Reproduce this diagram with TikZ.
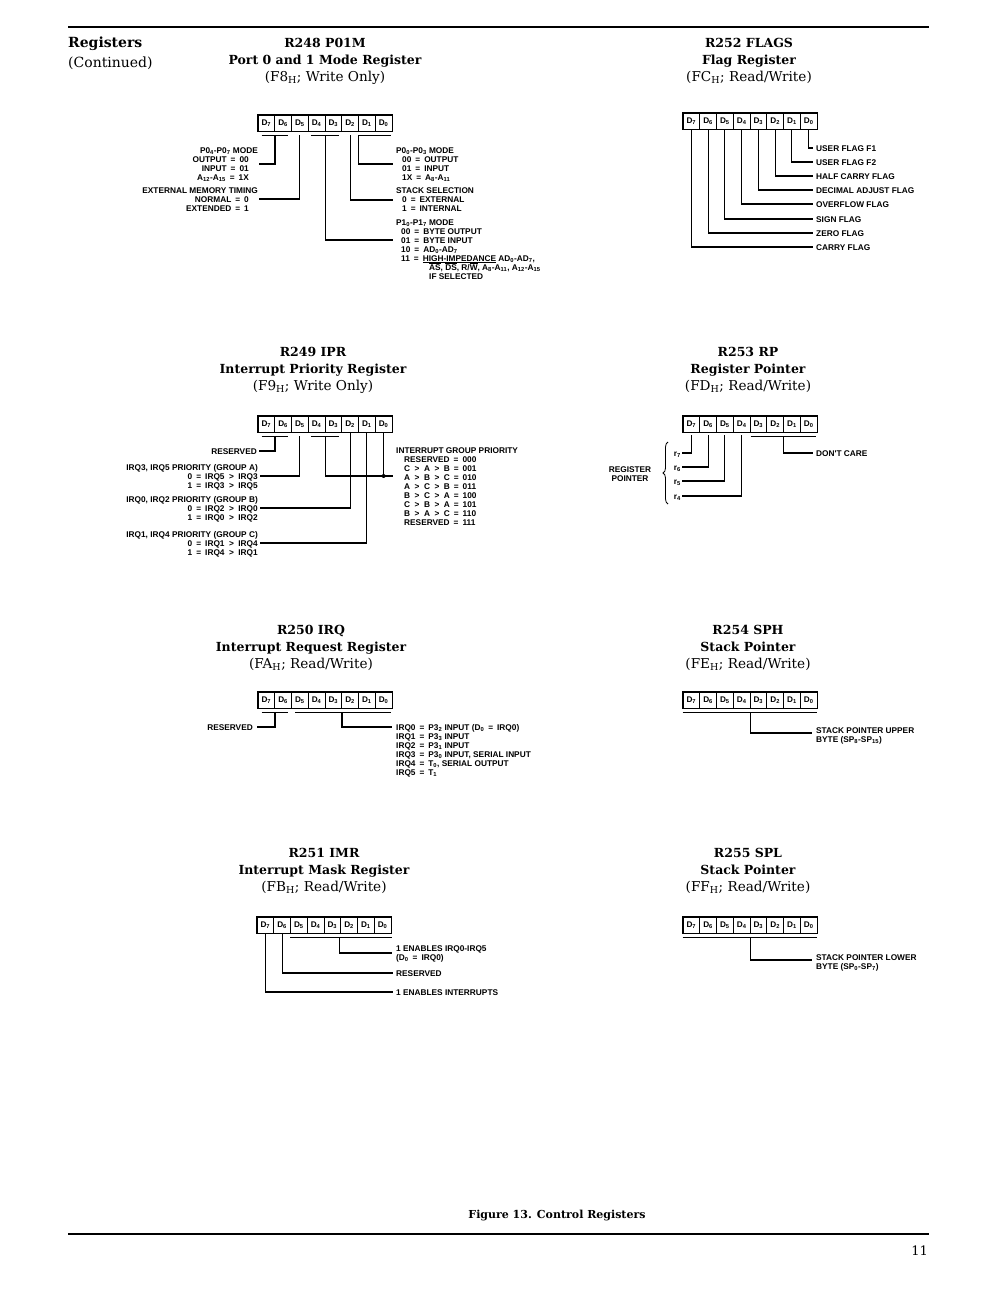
\documentclass[tikz,border=0pt]{standalone}
\usepackage{fontspec}
\usetikzlibrary{decorations.pathreplacing}
\newfontfamily\slab{DejaVu Serif}
\newfontfamily\lsans{Liberation Sans}
\newcommand\labf{\lsans\bfseries\fontsize{8.3}{9}\selectfont}
\newcommand\subs[1]{\textsubscript{#1}}
\newcommand\fl{\rule{0pt}{7pt}}
\newcommand\ov[1]{\smash{$\overline{\mbox{#1}}$}}
\newcommand\eq{\hspace{4pt}=\hspace{4pt}}
\newcommand\gtr{\hspace{4.5pt}>\hspace{4.5pt}}
\newcommand\ind[1]{\rule{#1}{0pt}}
\tikzset{
  cell/.style={draw, line width=0.6pt, minimum height=16pt, minimum width=16.75pt, inner sep=0pt,
    font=\lsans\bfseries\fontsize{8.2}{9}\selectfont},
  conn/.style={line width=1.15pt},
  lab/.style={inner sep=0pt, font=\labf},
  labL/.style={lab, anchor=north west, align=left},
  labR/.style={lab, anchor=north east, align=right},
  flag/.style={lab, anchor=west, text height=6pt, text depth=0pt},
  flagR/.style={lab, anchor=east, text height=6pt, text depth=0pt},
  ttl/.style={anchor=base, inner sep=0pt, font=\slab\bfseries\fontsize{12.5}{14}\selectfont},
  ttlr/.style={anchor=base, inner sep=0pt, font=\slab\fontsize{13.6}{15}\selectfont},
}
\newcommand\regbox[3]{%
  \foreach \i in {0,...,7}{
    \node[cell] (#1-\i) at ({#2+(7.5-\i)*16.75},{#3+8}) {D\textsubscript{\i}};
  }
  \draw[line width=1.6pt] (#1-7.north west) rectangle (#1-0.south east);
}
\newcommand\regtitle[6]{%
  \node[ttl] (#1a) at (#2,#3) {#4};
  \node[ttl] (#1b) at (#2,#3+17) {#5};
  \node[ttlr] (#1c) at (#2,#3+34) {#6};
}
\begin{document}
\begin{tikzpicture}[x=1pt,y=-1pt]
\useasboundingbox (0,0) rectangle (1008,1298);
\fill[white] (0,0) rectangle (1008,1298);

% page rules
\coordinate (rt1) at (68,27); \coordinate (rt2) at (929,27);
\draw[line width=2pt] (rt1) -- (rt2);
\coordinate (rb1) at (68,1234); \coordinate (rb2) at (929,1234);
\draw[line width=2pt] (rb1) -- (rb2);

\node[anchor=base west, inner sep=0pt, font=\slab\bfseries\fontsize{14}{16}\selectfont] (reg) at (68,48) {Registers};
\node[anchor=base west, inner sep=0pt, font=\slab\fontsize{14}{16}\selectfont] (cont) at (68,67) {(Continued)};
\node[anchor=base, inner sep=0pt, font=\slab\bfseries\fontsize{11}{13}\selectfont] (fig) at (557,1218) {Figure 13. Control Registers};
\node[anchor=base east, inner sep=0pt, font=\slab\fontsize{13}{15}\selectfont] (pg) at (928,1255) {11};

% titles
\regtitle{t248}{325}{47.5}{R248 P01M}{Port 0 and 1 Mode Register}{(F8\textsubscript{H}; Write Only)}
\regtitle{t252}{749}{47.5}{R252 FLAGS}{Flag Register}{(FC\textsubscript{H}; Read/Write)}
\regtitle{t249}{313}{356.5}{R249 IPR}{Interrupt Priority Register}{(F9\textsubscript{H}; Write Only)}
\regtitle{t253}{748}{356.5}{R253 RP}{Register Pointer}{(FD\textsubscript{H}; Read/Write)}
\regtitle{t250}{311}{634.5}{R250 IRQ}{Interrupt Request Register}{(FA\textsubscript{H}; Read/Write)}
\regtitle{t254}{748}{634.5}{R254 SPH}{Stack Pointer}{(FE\textsubscript{H}; Read/Write)}
\regtitle{t251}{324}{857.5}{R251 IMR}{Interrupt Mask Register}{(FB\textsubscript{H}; Read/Write)}
\regtitle{t255}{748}{857.5}{R255 SPL}{Stack Pointer}{(FF\textsubscript{H}; Read/Write)}

% ================= R248 =================
\regbox{a}{258}{115}
\draw[conn] ([xshift=4pt,yshift=-4pt]a-7.south west) -- ([xshift=-4pt,yshift=-4pt]a-6.south east);
\draw[conn] ([xshift=3pt,yshift=-4pt]a-4.south west) -- ([xshift=-3pt,yshift=-4pt]a-3.south east);
\draw[conn] ([xshift=1pt,yshift=-4pt]a-1.south west) -- ([xshift=-1pt,yshift=-4pt]a-0.south east);
\node[labR] (a-la) at (258,146) {\fl P0\subs{4}-P0\subs{7} MODE\\OUTPUT\eq 00\ind{9pt}\\INPUT\eq 01\ind{9pt}\\A\subs{12}-A\subs{15}\eq 1X\ind{9pt}};
\node[labR] (a-lb) at (258,186) {\fl EXTERNAL MEMORY TIMING\\NORMAL\eq 0\ind{9pt}\\EXTENDED\eq 1\ind{9pt}};
\node[labL] (a-rc) at (396,146) {\fl P0\subs{0}-P0\subs{3} MODE\\\ind{6pt}00\eq OUTPUT\\\ind{6pt}01\eq INPUT\\\ind{6pt}1X\eq A\subs{8}-A\subs{11}};
\node[labL] (a-rd) at (396,186) {\fl STACK SELECTION\\\ind{6pt}0\eq EXTERNAL\\\ind{6pt}1\eq INTERNAL};
\node[labL] (a-re) at (396,218) {\fl P1\subs{0}-P1\subs{7} MODE\\\ind{5pt}00\eq BYTE OUTPUT\\\ind{5pt}01\eq BYTE INPUT\\\ind{5pt}10\eq AD\subs{0}-AD\subs{7}\\\ind{5pt}11\eq \underline{HIGH-IMPEDANCE} AD\subs{0}-AD\subs{7},\\\ind{33pt}\ov{AS}, \ov{DS}, R/\ov{W}, A\subs{8}-A\subs{11}, A\subs{12}-A\subs{15}\\\ind{33pt}IF SELECTED};
\coordinate (ca1) at (259,164);
\coordinate (ca2) at (259,199);
\coordinate (ca3) at (393,164);
\coordinate (ca4) at (393,200);
\coordinate (ca5) at (393,240);
\draw[conn] ([yshift=-4pt]a-7.south east) |- (ca1);
\draw[conn] ([yshift=-4pt]a-5.south) |- (ca2);
\draw[conn] ([yshift=-4pt]a-1.south west) |- (ca3);
\draw[conn] ([yshift=-4pt]a-2.south) |- (ca4);
\draw[conn] ([yshift=-4pt]a-4.south east) |- (ca5);

% ================= R252 =================
\regbox{f}{683}{113}
\node[flag] (fl0) at (816,148) {USER FLAG F1};
\node[flag] (fl1) at (816,162) {USER FLAG F2};
\node[flag] (fl2) at (816,176) {HALF CARRY FLAG};
\node[flag] (fl3) at (816,190) {DECIMAL ADJUST FLAG};
\node[flag] (fl4) at (816,204) {OVERFLOW FLAG};
\node[flag] (fl5) at (816,219) {SIGN FLAG};
\node[flag] (fl6) at (816,233) {ZERO FLAG};
\node[flag] (fl7) at (816,247) {CARRY FLAG};
\foreach \i in {0,...,7}{
  \draw[conn] (f-\i.south) |- ([xshift=-3pt]fl\i.west);
}

% ================= R249 =================
\regbox{b}{258}{416}
\draw[conn] ([xshift=4pt,yshift=-4pt]b-7.south west) -- ([xshift=-4pt,yshift=-4pt]b-6.south east);
\draw[conn] ([xshift=3pt,yshift=-4pt]b-4.south west) -- ([xshift=-3pt,yshift=-4pt]b-3.south east);
\node[flagR] (b-res) at (257,451) {RESERVED};
\node[labR] (b-la) at (258,463) {\fl IRQ3, IRQ5 PRIORITY (GROUP A)\\0\eq IRQ5\gtr IRQ3\\1\eq IRQ3\gtr IRQ5};
\node[labR] (b-lb) at (258,495) {\fl IRQ0, IRQ2 PRIORITY (GROUP B)\\0\eq IRQ2\gtr IRQ0\\1\eq IRQ0\gtr IRQ2};
\node[labR] (b-lc) at (258,530) {\fl IRQ1, IRQ4 PRIORITY (GROUP C)\\0\eq IRQ1\gtr IRQ4\\1\eq IRQ4\gtr IRQ1};
\node[labL] (b-r) at (396,446) {\fl INTERRUPT GROUP PRIORITY\\\ind{8pt}RESERVED\eq 000\\\ind{8pt}C\gtr A\gtr B\eq 001\\\ind{8pt}A\gtr B\gtr C\eq 010\\\ind{8pt}A\gtr C\gtr B\eq 011\\\ind{8pt}B\gtr C\gtr A\eq 100\\\ind{8pt}C\gtr B\gtr A\eq 101\\\ind{8pt}B\gtr A\gtr C\eq 110\\\ind{8pt}RESERVED\eq 111};
\coordinate (cb1) at (260,476);
\coordinate (cb2) at (260,508);
\coordinate (cb3) at (260,543);
\coordinate (cb4) at (393,476);
\draw[conn] ([yshift=-4pt]b-7.south east) |- ([xshift=2pt]b-res.east);
\draw[conn] ([yshift=-4pt]b-5.south) |- (cb1);
\draw[conn] (b-2.south) |- (cb2);
\draw[conn] (b-1.south) |- (cb3);
\draw[conn] ([yshift=-4pt]b-4.south east) |- (cb4);
\coordinate (cbdot) at (b-0.south |- cb4);
\draw[conn] (b-0.south) -- (cbdot);
\fill (cbdot) circle (2pt);

% ================= R253 =================
\regbox{r}{683}{416}
\node[flagR, inner xsep=1pt] (rl7) at (682,453) {r\subs{7}};
\node[flagR, inner xsep=1pt] (rl6) at (682,467) {r\subs{6}};
\node[flagR, inner xsep=1pt] (rl5) at (682,481) {r\subs{5}};
\node[flagR, inner xsep=1pt] (rl4) at (682,496) {r\subs{4}};
\foreach \i in {4,...,7}{
  \draw[conn] ([yshift=-3pt]r-\i.south) |- (rl\i.east);
}
\draw[conn] ([xshift=1pt,yshift=-4pt]r-3.south west) -- ([xshift=-1pt,yshift=-4pt]r-0.south east);
\node[flag] (rdc) at (816,453) {DON'T CARE};
\draw[conn] ([yshift=-4pt]r-1.south west) |- ([xshift=-3pt]rdc.west);
\coordinate (br1) at (668,504);
\coordinate (br2) at (668,442);
\draw[line width=0.8pt, decorate, decoration={brace, amplitude=5pt}] (br1) -- (br2);
\node[lab, align=center, anchor=north] (rp) at (630,465) {\fl REGISTER\\POINTER};

% ================= R250 =================
\regbox{q}{258}{692}
\draw[conn] ([xshift=4pt,yshift=-4pt]q-7.south west) -- ([xshift=-4pt,yshift=-4pt]q-6.south east);
\draw[conn] ([xshift=4pt,yshift=-4pt]q-5.south west) -- ([xshift=-1pt,yshift=-4pt]q-0.south east);
\node[flagR] (q-res) at (253,727) {RESERVED};
\draw[conn] ([yshift=-4pt]q-7.south east) |- ([xshift=4pt]q-res.east);
\node[labL] (q-r) at (396,723) {\fl IRQ0\eq P3\subs{2} INPUT (D\subs{0}\eq IRQ0)\\IRQ1\eq P3\subs{3} INPUT\\IRQ2\eq P3\subs{1} INPUT\\IRQ3\eq P3\subs{0} INPUT, SERIAL INPUT\\IRQ4\eq T\subs{0}, SERIAL OUTPUT\\IRQ5\eq T\subs{1}};
\coordinate (cq) at (392,727);
\draw[conn] ([yshift=-4pt]q-3.south east) |- (cq);

% ================= R254 =================
\regbox{s}{683}{692}
\draw[conn] ([yshift=-4pt]s-7.south west) -- ([yshift=-4pt]s-0.south east);
\node[labL] (s-r) at (816,726) {\fl STACK POINTER UPPER\\BYTE (SP\subs{8}-SP\subs{15})};
\coordinate (cs) at (812,733);
\draw[conn] ([yshift=-4pt]s-4.south east) |- (cs);

% ================= R251 =================
\regbox{m}{257}{917}
\draw[conn] ([xshift=0pt,yshift=-4pt]m-5.south west) -- ([xshift=1pt,yshift=-4pt]m-0.south east);
\node[labL] (m-r) at (396,944) {\fl 1 ENABLES IRQ0-IRQ5\\(D\subs{0}\eq IRQ0)};
\coordinate (cm) at (392,953);
\draw[conn] ([xshift=-1.5pt,yshift=-4pt]m-3.south east) |- (cm);
\node[flag] (m-res) at (396,973) {RESERVED};
\node[flag] (m-int) at (396,992) {1 ENABLES INTERRUPTS};
\draw[conn] (m-6.south) |- ([xshift=-3pt]m-res.west);
\draw[conn] (m-7.south) |- ([xshift=-3pt]m-int.west);

% ================= R255 =================
\regbox{n}{683}{917}
\draw[conn] ([yshift=-4pt]n-7.south west) -- ([yshift=-4pt]n-0.south east);
\node[labL] (n-r) at (816,953) {\fl STACK POINTER LOWER\\BYTE (SP\subs{0}-SP\subs{7})};
\coordinate (cn) at (812,960);
\draw[conn] ([yshift=-4pt]n-4.south east) |- (cn);
\end{tikzpicture}
\end{document}
